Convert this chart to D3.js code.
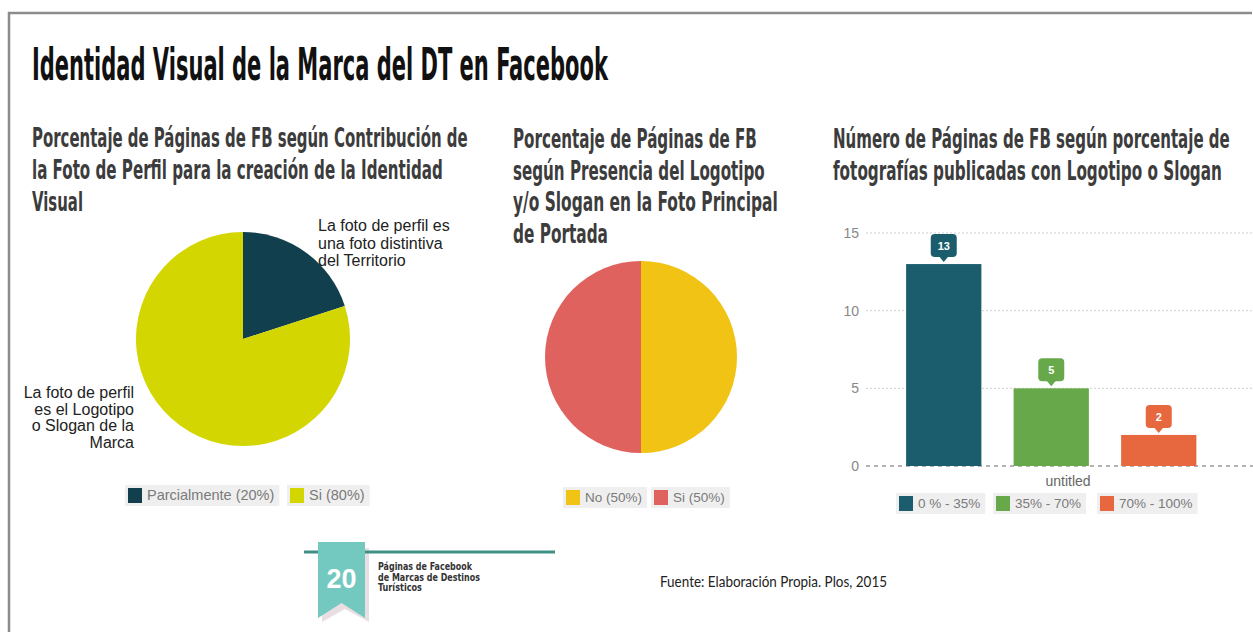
<!DOCTYPE html>
<html>
<head>
<meta charset="utf-8">
<script src="https://cdn.jsdelivr.net/npm/d3@7"></script>
<style>
  body { margin: 0; background: #fff; }
  .cond { font-family: "Liberation Sans Narrow", "DejaVu Sans Condensed", "Liberation Sans", sans-serif; font-weight: bold; }
  .sans { font-family: "Liberation Sans", Arial, sans-serif; }
</style>
</head>
<body>
<div id="chart"></div>
<script>
// Pie 1: contribution of the profile photo
var pie1Labels = ['Parcialmente', 'Si'];
var pie1Values = [20, 80];
var pie1Colors = ['#123f4d', '#d3d600'];

// Pie 2: logo / slogan in the cover photo
var pie2Labels = ['No', 'Si'];
var pie2Values = [50, 50];
var pie2Colors = ['#f1c315', '#e0625f'];

// Bar chart: number of pages by share of photos with logo or slogan
var barCategories = ['0 % - 35%', '35% - 70%', '70% - 100%'];
var barValues = [13, 5, 2];
var barColors = ['#1c5d6d', '#66a84a', '#e7673f'];
var yTicks = [0, 5, 10, 15];

var W = 1253, H = 632;
var svg = d3.select('#chart').append('svg')
    .attr('width', W)
    .attr('height', H);

// frame
svg.append('path')
    .attr('d', 'M9,632 V13 H1252')
    .attr('fill', 'none')
    .attr('stroke', '#8c8c8c')
    .attr('stroke-width', 2.5);

// condensed headings: font size picked so the natural width hits the
// measured width, then stretched vertically to the measured height
function condLines(lines, x, y0, step, size, color) {
    lines.forEach(function(l, i) {
        var g = svg.append('g');
        var t = g.append('text')
            .attr('class', 'cond')
            .attr('font-size', size)
            .attr('fill', color)
            .text(l[0]);
        var nat = t.node().getComputedTextLength();
        var fs = size * l[1] / nat;
        t.attr('font-size', fs);
        g.attr('transform', 'translate(' + x + ',' + (y0 + i * step) + ') scale(1,' + (size / fs) + ')');
    });
}

// main title
condLines([['Identidad Visual de la Marca del DT en Facebook', 576]], 32, 80, 0, 45, '#111');

// subtitles
condLines([
    ['Porcentaje de Páginas de FB según Contribución de', 436],
    ['la Foto de Perfil para la creación de la Identidad', 411],
    ['Visual', 51]
], 32, 147, 32, 26, '#3c3c3c');

condLines([
    ['Porcentaje de Páginas de FB', 244],
    ['según Presencia del Logotipo', 252],
    ['y/o Slogan en la Foto Principal', 265],
    ['de Portada', 95]
], 513, 148, 31.5, 26, '#3c3c3c');

condLines([
    ['Número de Páginas de FB según porcentaje de', 397],
    ['fotografías publicadas con Logotipo o Slogan', 389]
], 833, 148, 32, 26, '#3c3c3c');

// pies
var pie = d3.pie().sort(null).value(function(d) { return d; });

function drawPie(values, colors, cx, cy, r) {
    var arc = d3.arc().innerRadius(0).outerRadius(r);
    svg.append('g')
        .attr('transform', 'translate(' + cx + ',' + cy + ')')
        .selectAll('path')
        .data(pie(values))
        .enter()
        .append('path')
        .attr('d', arc)
        .attr('fill', function(d, i) { return colors[i]; });
}

drawPie(pie1Values, pie1Colors, 243, 339, 107);
drawPie(pie2Values, pie2Colors, 641, 357, 96);

// pie 1 slice labels
function textBlock(lines, x, y0, step, anchor) {
    lines.forEach(function(l, i) {
        svg.append('text')
            .attr('class', 'sans')
            .attr('x', x)
            .attr('y', y0 + i * step)
            .attr('font-size', 16)
            .attr('fill', '#222')
            .attr('text-anchor', anchor)
            .text(l);
    });
}
textBlock(['La foto de perfil es', 'una foto distintiva', 'del Territorio'], 318, 231, 17.5, 'start');
textBlock(['La foto de perfil', 'es el Logotipo', 'o Slogan de la', 'Marca'], 134, 398, 16.5, 'end');

// legends: gray chip per entry
function legend(items, x, y, size) {
    var g = svg.append('g').attr('transform', 'translate(' + x + ',' + y + ')');
    items.forEach(function(it) {
        var t = g.append('text')
            .attr('class', 'sans')
            .attr('x', it.x + 22)
            .attr('y', 15)
            .attr('font-size', size)
            .attr('fill', '#7a7a7a')
            .text(it.label);
        var tw = t.node().getComputedTextLength();
        g.insert('rect', 'text')
            .attr('x', it.x)
            .attr('y', 0)
            .attr('width', tw + 27)
            .attr('height', 21)
            .attr('fill', '#efefef');
        g.append('rect')
            .attr('x', it.x + 3)
            .attr('y', 3)
            .attr('width', 14)
            .attr('height', 15)
            .attr('fill', it.color);
    });
}

legend(pie1Labels.map(function(l, i) {
    return { label: l + ' (' + pie1Values[i] + '%)', color: pie1Colors[i], x: [0, 162][i] };
}), 125, 485, 14.5);

legend(pie2Labels.map(function(l, i) {
    return { label: l + ' (' + pie2Values[i] + '%)', color: pie2Colors[i], x: [0, 88][i] };
}), 563, 487, 13.5);

// bar chart
var y = d3.scaleLinear().domain([0, 15]).range([466, 233]);
var x = d3.scaleBand()
    .domain(barCategories)
    .range([890, 1212.5])
    .paddingInner(0.3)
    .paddingOuter(0.15);

var grid = svg.append('g');
yTicks.forEach(function(t) {
    grid.append('line')
        .attr('x1', 866).attr('x2', W)
        .attr('y1', y(t)).attr('y2', y(t))
        .attr('stroke', t === 0 ? '#9a9a9a' : '#cfcfcf')
        .attr('stroke-width', t === 0 ? 1.5 : 1)
        .attr('stroke-dasharray', t === 0 ? '4,4' : '2,2');
});

svg.append('g')
    .attr('transform', 'translate(859,0)')
    .call(d3.axisLeft(y).tickValues(yTicks).tickSize(0).tickPadding(0))
    .call(function(g) { g.select('.domain').remove(); })
    .selectAll('text')
    .attr('class', 'sans')
    .attr('font-size', 14)
    .attr('fill', '#888');

svg.append('g')
    .selectAll('rect')
    .data(barValues)
    .enter()
    .append('rect')
    .attr('x', function(d, i) { return x(barCategories[i]); })
    .attr('y', function(d) { return y(d); })
    .attr('width', x.bandwidth())
    .attr('height', function(d) { return y(0) - y(d); })
    .attr('fill', function(d, i) { return barColors[i]; });

// callout value labels
var callouts = svg.append('g')
    .selectAll('g')
    .data(barValues)
    .enter()
    .append('g')
    .attr('transform', function(d, i) {
        return 'translate(' + (x(barCategories[i]) + x.bandwidth() / 2) + ',' + y(d) + ')';
    });
callouts.append('rect')
    .attr('x', -13).attr('y', -30)
    .attr('width', 26).attr('height', 23)
    .attr('rx', 4)
    .attr('fill', function(d, i) { return barColors[i]; });
callouts.append('path')
    .attr('d', 'M-5,-8 L0,-2 L5,-8 Z')
    .attr('fill', function(d, i) { return barColors[i]; });
callouts.append('text')
    .attr('class', 'sans')
    .attr('y', -14)
    .attr('text-anchor', 'middle')
    .attr('font-size', 11)
    .attr('font-weight', 'bold')
    .attr('fill', '#fff')
    .text(function(d) { return d; });

svg.append('text')
    .attr('class', 'sans')
    .attr('x', 1068)
    .attr('y', 486)
    .attr('text-anchor', 'middle')
    .attr('font-size', 14)
    .attr('fill', '#666')
    .text('untitled');

legend(barCategories.map(function(l, i) {
    return { label: l, color: barColors[i], x: [0, 97, 201][i] };
}), 896, 493, 13.5);

// footer ribbon
svg.append('path')
    .attr('d', 'M322,548 H369 V622 L345,609 L322,622 Z')
    .attr('fill', '#e9dfe3');
svg.append('line')
    .attr('x1', 304).attr('x2', 555)
    .attr('y1', 552).attr('y2', 552)
    .attr('stroke', '#3f8f86')
    .attr('stroke-width', 3);
svg.append('path')
    .attr('d', 'M318,542 H365 V618 L341.5,603 L318,618 Z')
    .attr('fill', '#73c9c0');
svg.append('text')
    .attr('class', 'sans')
    .attr('x', 341.5)
    .attr('y', 588)
    .attr('text-anchor', 'middle')
    .attr('font-size', 27)
    .attr('font-weight', 'bold')
    .attr('fill', '#fff')
    .text('20');

condLines([
    ['Páginas de Facebook', 94],
    ['de Marcas de Destinos', 102],
    ['Turísticos', 44]
], 378, 570, 10.5, 11, '#333');

svg.append('text')
    .attr('x', 660)
    .attr('y', 587)
    .attr('font-family', 'Lato, "Open Sans", sans-serif')
    .attr('font-size', 16)
    .attr('fill', '#222')
    .attr('textLength', 227)
    .attr('lengthAdjust', 'spacingAndGlyphs')
    .text('Fuente: Elaboración Propia. Plos, 2015');
</script>
</body>
</html>
